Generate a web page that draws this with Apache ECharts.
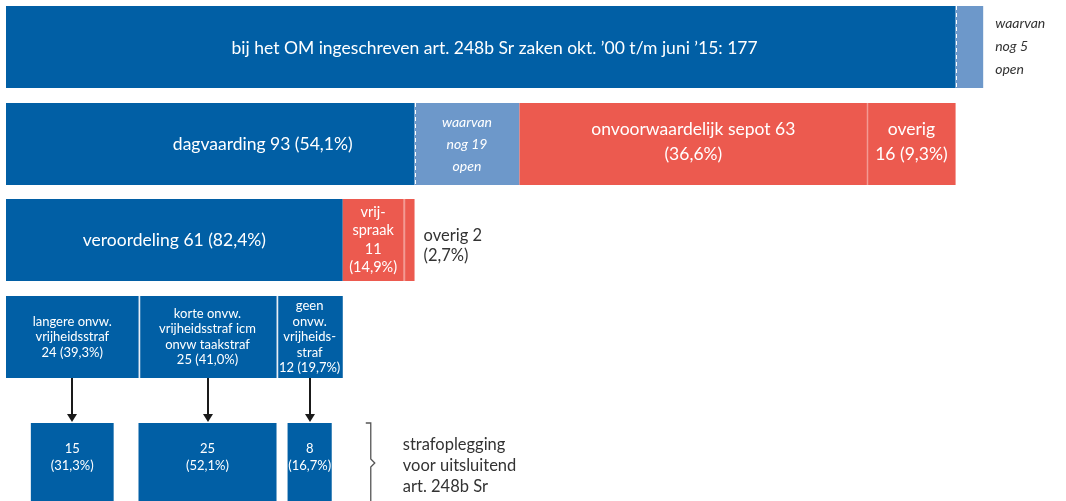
<!DOCTYPE html>
<html>
<head>
<meta charset="utf-8">
<script src="https://cdn.jsdelivr.net/npm/echarts@6/dist/echarts.min.js"></script>
<style>
  html, body { margin: 0; padding: 0; background: #fff; }
  #chart { width: 1066px; height: 501px; }
</style>
</head>
<body>
<div id="chart"></div>
<script>
// ---------------- data ----------------
const row1Values = [172, 5];
const row1Labels = ['bij het OM ingeschreven art. 248b Sr zaken okt. ’00 t/m juni ’15: 177', 'waarvan\nnog 5\nopen'];
const row2Values = [74, 19, 63, 16];
const row2Labels = ['dagvaarding 93 (54,1%)', 'waarvan\nnog 19\nopen', 'onvoorwaardelijk sepot 63\n(36,6%)', 'overig\n16 (9,3%)'];
const row3Values = [61, 11, 2];
const row3Labels = ['veroordeling 61 (82,4%)', 'vrij-\nspraak\n11\n(14,9%)', 'overig 2\n(2,7%)'];
const row4Values = [24, 25, 12];
const row4Labels = ['langere onvw.\nvrijheidsstraf\n24 (39,3%)', 'korte onvw.\nvrijheidsstraf icm\nonvw taakstraf\n25 (41,0%)', 'geen\nonvw.\nvrijheids-\nstraf\n12 (19,7%)'];
const row5Values = [15, 25, 8];
const row5Labels = ['15\n(31,3%)', '25\n(52,1%)', '8\n(16,7%)'];
const bracketLabel = 'strafoplegging\nvoor uitsluitend\nart. 248b Sr';

// ---------------- styling / layout ----------------
const C_DARK = '#015FA5', C_LIGHT = '#6D98CA', C_RED = '#EC5A4F';
const FONT = 'Lato, "Noto Sans", sans-serif';
const ROWS = [
  { top: 6, h: 82 }, { top: 103, h: 82 }, { top: 199, h: 82 }, { top: 296, h: 82 }, { top: 423, h: 82 }
];

function stack(values) { let s = 0; return values.map(v => { const a = s; s += v; return [a, s]; }); }

const shapes = [];
function addRects(spans, row, colors) {
  spans.forEach((sp, i) => shapes.push({ t: 'rect', x0: sp[0], x1: sp[1], row, color: colors[i] }));
}
function addDivider(x, row, kind) { shapes.push({ t: 'div', x, row, kind }); }
function addLabel(x, row, text, st) { shapes.push(Object.assign({ t: 'label', x, row, text }, st)); }

const big = { size: 17.5, lh: 25, fill: '#fff' };

// Row 1
const s1 = stack(row1Values);
addRects(s1, 0, [C_DARK, C_LIGHT]);
addDivider(s1[0][1], 0, 'dashed');
addLabel((s1[0][0] + s1[1][1]) / 2, 0, row1Labels[0], { size: 17.5, lh: 24, fill: '#fff', dy: 1 });
addLabel(s1[1][1], 0, row1Labels[1], { size: 14, lh: 23, fill: '#333', italic: true, align: 'left', dx: 12, dy: -1 });

// Row 2
const s2 = stack(row2Values);
addRects(s2, 1, [C_DARK, C_LIGHT, C_RED, C_RED]);
addDivider(s2[0][1], 1, 'dashed');
addDivider(s2[3][0], 1, 'light');
addLabel((s2[0][0] + s2[1][1]) / 2, 1, row2Labels[0], Object.assign({}, big, { dy: 0 }));
addLabel((s2[1][0] + s2[1][1]) / 2, 1, row2Labels[1], { size: 14, lh: 22, fill: '#fff', italic: true, dy: 0 });
addLabel((s2[2][0] + s2[2][1]) / 2, 1, row2Labels[2], Object.assign({}, big, { dy: -2 }));
addLabel((s2[3][0] + s2[3][1]) / 2, 1, row2Labels[3], Object.assign({}, big, { dy: -2 }));

// Row 3
const s3 = stack(row3Values);
addRects(s3, 2, [C_DARK, C_RED, C_RED]);
addDivider(s3[2][0], 2, 'light');
addLabel((s3[0][0] + s3[0][1]) / 2, 2, row3Labels[0], Object.assign({}, big, { dy: 0 }));
addLabel((s3[1][0] + s3[1][1]) / 2, 2, row3Labels[1], { size: 14.5, lh: 18.5, fill: '#fff', dy: 0 });
addLabel(s3[2][1], 2, row3Labels[2], { size: 16.5, lh: 20, fill: '#333', align: 'left', dx: 9, dy: 6 });

// Row 4
const s4 = stack(row4Values);
addRects(s4, 3, [C_DARK, C_DARK, C_DARK]);
addDivider(s4[1][0], 3, 'white');
addDivider(s4[2][0], 3, 'white');
s4.forEach((sp, i) => addLabel((sp[0] + sp[1]) / 2, 3, row4Labels[i], { size: 13, lh: 15.5, fill: '#fff', dy: 0 }));

// Row 5 (centered under the row-4 segments) + arrows
s4.forEach((sp, i) => {
  const c = (sp[0] + sp[1]) / 2;
  const v = row5Values[i];
  shapes.push({ t: 'rect', x0: c - v / 2, x1: c + v / 2, row: 4, color: C_DARK });
  shapes.push({ t: 'arrow', x: c });
  addLabel(c, 4, row5Labels[i], { size: 13, lh: 17, fill: '#fff', dy: -7 });
});
shapes.push({ t: 'bracket', x: s4[2][1] });

// ---------------- render ----------------
function renderItem(params, api) {
  const s = shapes[params.dataIndex];
  if (s.t === 'rect') {
    const r = ROWS[s.row];
    const p0 = api.coord([s.x0, r.top]);
    const p1 = api.coord([s.x1, r.top + r.h]);
    return { type: 'rect', shape: { x: p0[0], y: p0[1], width: p1[0] - p0[0], height: p1[1] - p0[1] },
      style: { fill: s.color } };
  }
  if (s.t === 'div') {
    const r = ROWS[s.row];
    const p0 = api.coord([s.x, r.top]);
    const p1 = api.coord([s.x, r.top + r.h]);
    const x = Math.round(p0[0]) + 0.5;
    const st = s.kind === 'dashed' ? { stroke: '#fff', lineWidth: 1, lineDash: [4, 3] }
      : s.kind === 'light' ? { stroke: '#F39A93', lineWidth: 1.5 }
      : { stroke: '#E8EEF5', lineWidth: 1.5 };
    return { type: 'line', shape: { x1: x, y1: p0[1], x2: x, y2: p1[1] }, style: st };
  }
  if (s.t === 'label') {
    const r = ROWS[s.row];
    const p = api.coord([s.x, r.top + r.h / 2]);
    return { type: 'text', x: p[0] + (s.dx || 0), y: p[1] + (s.dy || 0), silent: true,
      style: { text: s.text, fill: s.fill, fontSize: s.size, fontFamily: FONT,
        fontStyle: s.italic ? 'italic' : 'normal', lineHeight: s.lh,
        align: s.align || 'center', verticalAlign: 'middle' } };
  }
  if (s.t === 'arrow') {
    const a = ROWS[3], b = ROWS[4];
    const p0 = api.coord([s.x, a.top + a.h]);
    const p1 = api.coord([s.x, b.top]);
    const x = Math.round(p0[0]);
    return { type: 'group', children: [
      { type: 'line', shape: { x1: x, y1: p0[1], x2: x, y2: p1[1] - 7 }, style: { stroke: '#1a1a1a', lineWidth: 2 } },
      { type: 'polygon', shape: { points: [[x - 5, p1[1] - 9], [x + 5, p1[1] - 9], [x, p1[1] - 1]] }, style: { fill: '#1a1a1a' } }
    ] };
  }
  if (s.t === 'bracket') {
    const b = ROWS[4];
    const p0 = api.coord([s.x, b.top]);
    const p1 = api.coord([s.x, b.top + b.h]);
    const bx = p0[0] + 28;
    const mid = p0[1] + 40;
    return { type: 'group', children: [
      { type: 'polyline', shape: { points: [[bx - 5, p0[1]], [bx, p0[1]], [bx, mid - 4], [bx + 4, mid], [bx, mid + 4], [bx, p1[1]]] },
        style: { stroke: '#555', lineWidth: 1.3, fill: null } },
      { type: 'text', x: bx + 32, y: mid + 3, silent: true,
        style: { text: bracketLabel, fill: '#333', fontSize: 16.5, fontFamily: FONT, lineHeight: 21, align: 'left', verticalAlign: 'middle' } }
    ] };
  }
  return null;
}

const chart = echarts.init(document.getElementById('chart'));
chart.setOption({
  animation: false,
  grid: { left: 6, right: 0, top: 0, bottom: 0 },
  xAxis: { type: 'value', min: 0, max: 192, show: false },
  yAxis: { type: 'value', min: 0, max: 501, inverse: true, show: false },
  series: [{
    type: 'custom',
    renderItem,
    clip: false,
    data: shapes.map((s, i) => [i, 0])
  }]
});
</script>
</body>
</html>
